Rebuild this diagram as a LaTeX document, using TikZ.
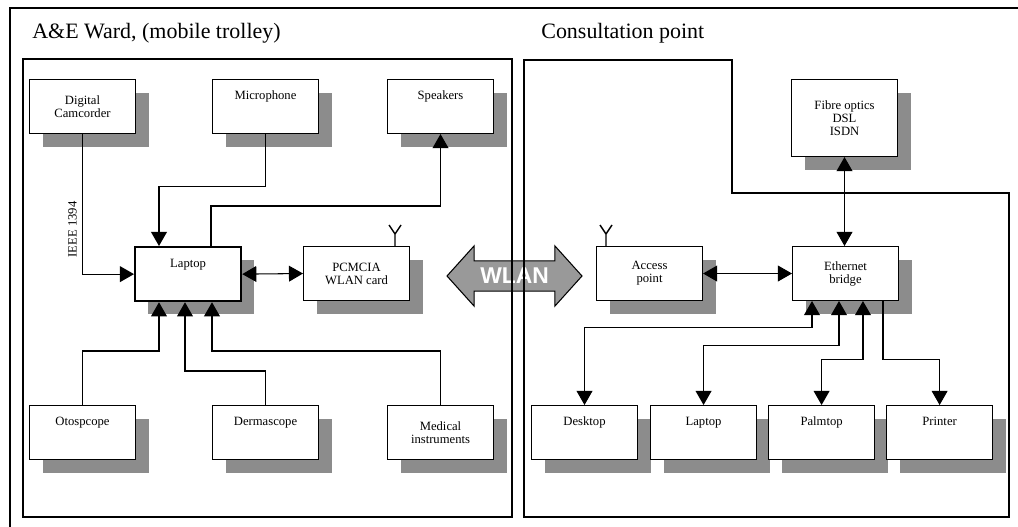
\documentclass[tikz,border=0pt]{standalone}
\usepackage{fontspec}
\setmainfont{Liberation Serif}
\newfontfamily\wlanfont{Liberation Sans}
\usetikzlibrary{positioning, arrows.meta, shapes.arrows, shadows}

\begin{document}
\begin{tikzpicture}[
x=0.02cm, y=-0.02cm,
box/.style={rectangle, draw, fill=white, line width=0.6pt, anchor=north west, align=center, inner sep=0pt, minimum width=2.12cm, minimum height=1.08cm, font=\fontsize{7.2}{7.4}\selectfont, drop shadow={shadow xshift=0.26cm, shadow yshift=-0.26cm, fill=black!45, opacity=1}},
onebox/.style={box, text height=0.4cm, text depth=0.68cm},
title/.style={anchor=base west, inner sep=0pt, font=\fontsize{12.5}{14}\selectfont},
wlan/.style={double arrow, draw, line width=0.6pt, fill=black!40, text=white, font=\fontsize{13}{13}\wlanfont\bfseries, inner xsep=2pt, inner ysep=3.8pt, minimum height=2.7cm, double arrow head extend=0.3cm, double arrow tip angle=96},
panel/.style={line width=0.9pt},
arrow/.style={-{Triangle[length=8pt, width=9pt]}, line width=0.6pt},
arrowboth/.style={{Triangle[length=8pt, width=9pt]}-{Triangle[length=8pt, width=9pt]}, line width=0.6pt},
antenna/.style={line width=0.8pt}
]
\useasboundingbox (0,0) rectangle (1018,527);

% titles and WLAN link
\node[title] (ward) at (32,39) {A\&E Ward, (mobile trolley)};
\node[title] (consult) at (541,39) {Consultation point};
\node[wlan] (wlan) at (514.5,276) {WLAN};

% frame and the two areas
\draw[panel] (1018,8) -- (10,8) -- (10,527);
\draw[panel] (23,59) rectangle (512,517);
\draw[panel] (524,60) -- (732,60) -- (732,193) -- (1009,193) -- (1009,517) -- (524,517) -- cycle;

% mobile trolley
\node[box] (cam) at (29,79) {Digital\\Camcorder};
\node[onebox] (mic) at (212,79) {Microphone};
\node[onebox] (spk) at (387,79) {Speakers};
\node[onebox, line width=1.3pt] (laptop) at (134,246) {Laptop};
\node[box] (pcmcia) at (303,246) {PCMCIA\\WLAN card};
\node[onebox] (oto) at (29,405) {Otospcope};
\node[onebox] (derm) at (212,405) {Dermascope};
\node[box] (med) at (387,405) {Medical\\instruments};

% consultation point
\node[box, minimum height=1.54cm] (fibre) at (791,79) {Fibre optics\\DSL\\ISDN};
\node[box] (access) at (596,246) {Access\\point};
\node[box] (eth) at (792,246) {Ethernet\\bridge};
\node[onebox] (desk) at (531,405) {Desktop};
\node[onebox, anchor=west, right=0.24cm of desk] (lap2) {Laptop};
\node[onebox, anchor=west, right=0.22cm of lap2] (palm) {Palmtop};
\node[onebox, anchor=west, right=0.22cm of palm] (printer) {Printer};

% antennas
\draw[antenna] ([xshift=-0.3cm]pcmcia.north east) -- ++(0,-12) -- ++(-6,-9) ++(6,9) -- ++(6,-9);
\draw[antenna] ([xshift=0.2cm]access.north west) -- ++(0,-12) -- ++(-6,-9) ++(6,9) -- ++(6,-9);

\draw[arrow] (cam.south) |- node[pos=0.34, rotate=90, anchor=south, inner sep=3pt, font=\fontsize{7.2}{7.4}\selectfont] {IEEE 1394} (laptop.west);
\draw[arrow] (mic.south) -- ++(0,52) -| ([xshift=0.5cm]laptop.north west);
\draw[arrow] ([xshift=1.54cm]laptop.north west) -- ++(0,-40) -| (spk.south);
\draw[arrowboth] (laptop.east) -- (pcmcia.west);
\draw[arrow] (oto.north) -- ++(0,-54) -| ([xshift=0.5cm]laptop.south west);
\draw[arrow] (derm.north) -- ++(0,-34) -| ([xshift=1.02cm]laptop.south west);
\draw[arrow] (med.north) -- ++(0,-54) -| ([xshift=1.56cm]laptop.south west);

\draw[arrowboth] (fibre.south) -- (fibre.south |- eth.north);
\draw[arrowboth] (access.east) -- (eth.west);
\draw[arrowboth] ([xshift=0.4cm]eth.south west) -- ++(0,26) -| (desk.north);
\draw[arrowboth] ([xshift=0.94cm]eth.south west) -- ++(0,44) -| (lap2.north);
\draw[arrowboth] ([xshift=1.42cm]eth.south west) -- ++(0,58) -| (palm.north);
\draw[arrow] ([xshift=1.82cm]eth.south west) -- ++(0,58) -| (printer.north);

\end{tikzpicture}
\end{document}
